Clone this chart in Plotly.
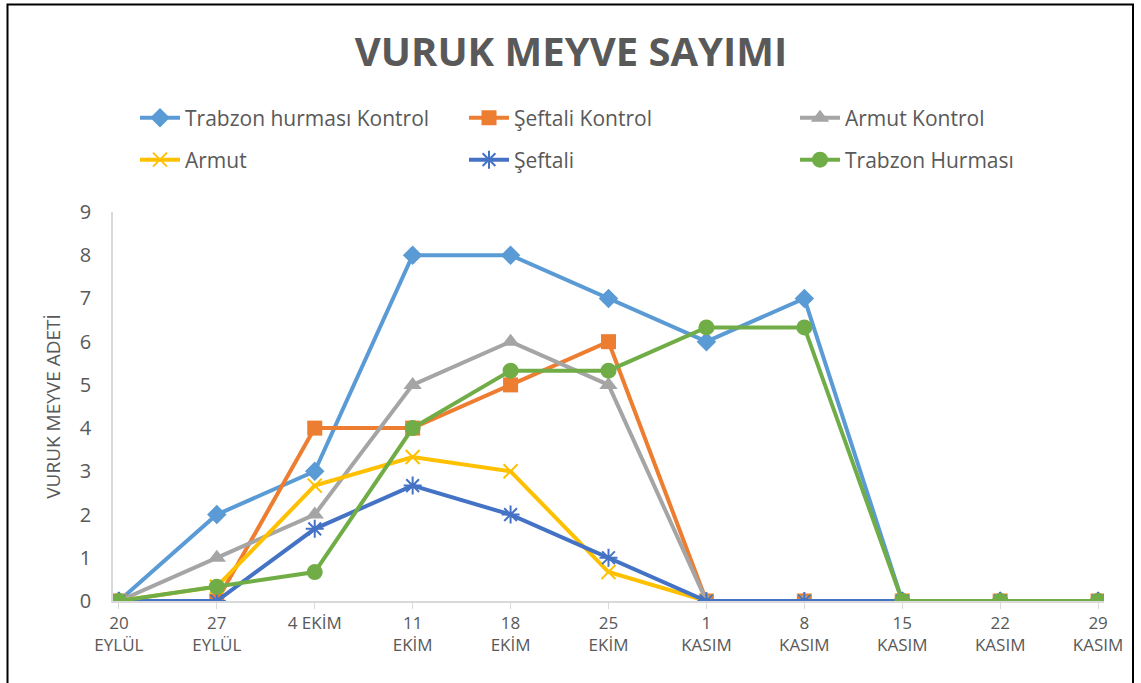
import plotly.graph_objects as go

# categories (dates)
dates = ["20<br>EYLÜL", "27<br>EYLÜL", "4 EKİM", "11<br>EKİM", "18<br>EKİM", "25<br>EKİM",
         "1<br>KASIM", "8<br>KASIM", "15<br>KASIM", "22<br>KASIM", "29<br>KASIM"]

trabzon_kontrol = [0, 2, 3, 8, 8, 7, 6, 7, 0, 0, 0]
seftali_kontrol = [0, 0, 4, 4, 5, 6, 0, 0, 0, 0, 0]
armut_kontrol = [0, 1, 2, 5, 6, 5, 0, 0, 0, 0, 0]
armut = [0, 0.33, 2.67, 3.33, 3, 0.67, 0, 0, 0, 0, 0]
seftali = [0, 0, 1.67, 2.67, 2, 1, 0, 0, 0, 0, 0]
trabzon = [0, 0.33, 0.67, 4, 5.33, 5.33, 6.33, 6.33, 0, 0, 0]

W, H = 1141, 683
L, R, T, B = 113, 37, 212, 82
pw, ph = W - L - R, H - T - B

def px(x):
    return (x - L) / pw

def py(y):
    return (H - B - y) / ph

series = [
    ("Trabzon hurması Kontrol", trabzon_kontrol, "#5B9BD5", dict(symbol="diamond", size=15)),
    ("Şeftali Kontrol", seftali_kontrol, "#ED7D31", dict(symbol="square", size=15)),
    ("Armut Kontrol", armut_kontrol, "#A5A5A5", dict(symbol="triangle-up", size=16)),
    ("Armut", armut, "#FFC000", dict(symbol="x-thin-open", size=14, line=dict(width=2, color="#FFC000"))),
    ("Şeftali", seftali, "#4472C4", dict(symbol="asterisk-open", size=15, line=dict(width=2, color="#4472C4"))),
    ("Trabzon Hurması", trabzon, "#70AD47", dict(symbol="circle", size=16)),
]

# legend slots: 3 columns x 2 rows, each entry gets its own legend
leg_cols = [135, 464, 795]
leg_rows = [118, 160]

fig = go.Figure()
xs = list(range(len(dates)))
legend_font = dict(family="Open Sans", size=21, color="#595959")
layout_legends = {"showlegend": True, "legend": dict(visible=False)}
for i, (name, vals, col, mk) in enumerate(series):
    lg = f"legend{i + 2}"
    fig.add_trace(go.Scatter(
        x=xs, y=vals, name=name, mode="lines+markers",
        line=dict(color=col, width=4),
        marker=dict(color=col, **mk),
        legend=lg,
    ))
    layout_legends[lg] = dict(x=px(leg_cols[i % 3]), xanchor="left",
                              y=py(leg_rows[i // 3]), yanchor="middle",
                              itemwidth=40, font=legend_font,
                              bgcolor="rgba(0,0,0,0)")

fig.update_layout(
    width=W, height=H,
    margin=dict(l=L, r=R, t=T, b=B),
    paper_bgcolor="white", plot_bgcolor="white",
    font=dict(family="Open Sans", color="#595959"),
    title=dict(text="<b>VURUK MEYVE SAYIMI</b>", x=px(571), xref="paper", xanchor="center",
               y=1 - 52 / H, yanchor="middle",
               font=dict(family="Open Sans", size=40, color="#595959")),
    xaxis=dict(range=[-0.06, 10.06], tickmode="array", tickvals=xs, ticktext=dates,
               showgrid=False, zeroline=False, showline=True, linecolor="#D9D9D9", linewidth=1.5,
               ticks="outside", ticklen=6, tickcolor="#D9D9D9",
               tickfont=dict(family="Open Sans", size=17, color="#595959")),
    yaxis=dict(range=[0, 9], dtick=1, showgrid=False, zeroline=False,
               showline=True, linecolor="#D9D9D9", linewidth=1.5,
               ticklabelstandoff=16,
               tickfont=dict(family="Open Sans", size=20, color="#595959"),
               title=dict(text="VURUK MEYVE ADETİ", standoff=14,
                          font=dict(family="Open Sans", size=19, color="#595959"))),
    **layout_legends,
)

# chart frame
fig.add_shape(type="rect", xref="paper", yref="paper",
              x0=px(7.5), x1=px(1133), y0=py(700), y1=py(4.5),
              line=dict(color="black", width=2), layer="above")

# drop the page's default body margin so the figure sits at the window's corner
fig.write_html("out.html", config={"displayModeBar": False},
               post_script="document.body.style.margin='0';")
